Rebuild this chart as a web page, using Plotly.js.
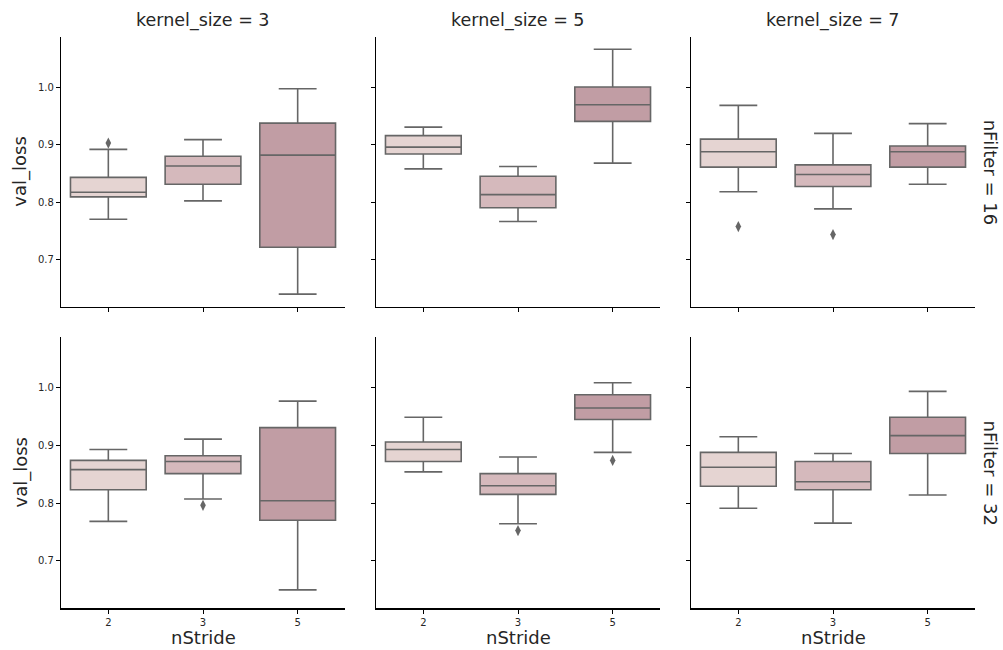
<!DOCTYPE html>
<html>
<head>
<meta charset="utf-8">
<script src="https://cdn.plot.ly/plotly-3.0.1.min.js"></script>
<style>html,body{margin:0;padding:0;background:#fff;}#chart{width:1003px;height:650px;}</style>
</head>
<body>
<div id="chart"></div>
<script>
// ---- data ----
const kernelSizes = [3, 5, 7];
const nFilters = [16, 32];
const strides = ['2', '3', '5'];
const yTicks = [0.7, 0.8, 0.9, 1.0];

// each array: [kernel 3, kernel 5, kernel 7] x [stride 2, 3, 5]
const lowerF16  = [[0.770, 0.802, 0.639], [0.858, 0.766, 0.868], [0.818, 0.788, 0.831]];
const q1F16     = [[0.809, 0.831, 0.721], [0.884, 0.790, 0.941], [0.861, 0.827, 0.861]];
const medianF16 = [[0.817, 0.863, 0.882], [0.896, 0.813, 0.970], [0.888, 0.848, 0.888]];
const q3F16     = [[0.843, 0.880, 0.938], [0.916, 0.845, 1.001], [0.910, 0.865, 0.898]];
const upperF16  = [[0.892, 0.909, 0.998], [0.931, 0.862, 1.067], [0.969, 0.920, 0.937]];

const lowerF32  = [[0.768, 0.807, 0.649], [0.854, 0.764, 0.888], [0.791, 0.765, 0.814]];
const q1F32     = [[0.823, 0.851, 0.770], [0.872, 0.815, 0.945], [0.829, 0.823, 0.886]];
const medianF32 = [[0.858, 0.872, 0.804], [0.893, 0.830, 0.965], [0.862, 0.837, 0.917]];
const q3F32     = [[0.874, 0.882, 0.931], [0.906, 0.851, 0.988], [0.888, 0.872, 0.949]];
const upperF32  = [[0.893, 0.911, 0.977], [0.949, 0.880, 1.009], [0.915, 0.886, 0.994]];

// outliers per kernel size
const outlierXF16 = [['2'], [], ['2', '3']];
const outlierYF16 = [[0.903], [], [0.757, 0.743]];
const outlierXF32 = [['3'], ['3', '5'], []];
const outlierYF32 = [[0.796], [0.752, 0.874], []];

// ---- styling ----
const boxColors = ['#e5d4d2', '#d5b9bc', '#c19da4'];
const lineGray = '#666666';
const W = 1003, H = 650;
const xDomPx = [[61, 345], [376, 660], [691, 975]];
const yDomPx = [[36.7, 306.7], [336.7, 608.3]];
const yRange = [0.617, 1.089];

const stats = {
  16: [lowerF16, q1F16, medianF16, q3F16, upperF16, outlierXF16, outlierYF16],
  32: [lowerF32, q1F32, medianF32, q3F32, upperF32, outlierXF32, outlierYF32]
};

const traces = [];
const layout = {
  width: W, height: H,
  margin: {l: 0, r: 0, t: 0, b: 0},
  paper_bgcolor: '#fff', plot_bgcolor: '#fff',
  showlegend: false,
  font: {family: 'DejaVu Sans, sans-serif', color: '#262626'},
  annotations: []
};

const titleFont = {family: 'DejaVu Sans, sans-serif', size: 17.5, color: '#262626'};
const labelFont = {family: 'DejaVu Sans, sans-serif', size: 18, color: '#262626'};
const tickFont = {family: 'DejaVu Sans, sans-serif', size: 10, color: '#262626'};

nFilters.forEach((nf, r) => {
  const [lo, q1, md, q3, up, ox, oy] = stats[nf];
  kernelSizes.forEach((ks, c) => {
    const idx = r * 3 + c + 1;
    const sfx = idx === 1 ? '' : String(idx);
    const xa = 'x' + sfx, ya = 'y' + sfx;
    strides.forEach((s, si) => {
      traces.push({
        type: 'box', xaxis: xa, yaxis: ya,
        x: [s], q1: [q1[c][si]], median: [md[c][si]], q3: [q3[c][si]],
        lowerfence: [lo[c][si]], upperfence: [up[c][si]],
        boxpoints: false, width: 0.8, whiskerwidth: 0.5,
        fillcolor: boxColors[si],
        line: {color: lineGray, width: 1.6},
        hoverinfo: 'skip'
      });
    });
    if (ox[c].length) {
      traces.push({
        type: 'scatter', mode: 'markers', xaxis: xa, yaxis: ya,
        x: ox[c], y: oy[c],
        marker: {symbol: 'diamond-tall', size: 8, color: lineGray},
        hoverinfo: 'skip'
      });
    }
    layout['xaxis' + sfx] = {
      domain: [xDomPx[c][0] / W, xDomPx[c][1] / W],
      anchor: ya, type: 'category', categoryorder: 'array', categoryarray: strides,
      range: [-0.5, 2.5], showgrid: false, zeroline: false,
      showline: true, linecolor: '#000', linewidth: 1.2,
      ticks: 'outside', ticklen: 4, tickcolor: '#000', tickwidth: 1,
      showticklabels: r === 1, tickfont: tickFont,
      fixedrange: true
    };
    layout['yaxis' + sfx] = {
      domain: [1 - yDomPx[r][1] / H, 1 - yDomPx[r][0] / H],
      anchor: xa, range: yRange, tickvals: yTicks, tickformat: '.1f',
      showgrid: false, zeroline: false,
      showline: true, linecolor: '#000', linewidth: 1.2,
      ticks: 'outside', ticklen: 4, tickcolor: '#000', tickwidth: 1,
      showticklabels: c === 0, tickfont: tickFont,
      fixedrange: true
    };
    if (r === 0) {
      layout.annotations.push({
        xref: 'paper', yref: 'paper', text: 'kernel_size = ' + ks,
        x: (xDomPx[c][0] + xDomPx[c][1]) / 2 / W, y: 1 - 20 / H,
        xanchor: 'center', yanchor: 'middle', showarrow: false, font: titleFont
      });
    }
    if (r === 1) {
      layout.annotations.push({
        xref: 'paper', yref: 'paper', text: 'nStride',
        x: (xDomPx[c][0] + xDomPx[c][1]) / 2 / W, y: 1 - 637 / H,
        xanchor: 'center', yanchor: 'middle', showarrow: false, font: labelFont
      });
    }
    if (c === 0) {
      layout.annotations.push({
        xref: 'paper', yref: 'paper', text: 'val_loss', textangle: -90,
        x: 20 / W, y: 1 - (yDomPx[r][0] + yDomPx[r][1]) / 2 / H,
        xanchor: 'center', yanchor: 'middle', showarrow: false, font: labelFont
      });
    }
    if (c === 2) {
      layout.annotations.push({
        xref: 'paper', yref: 'paper', text: 'nFilter = ' + nf, textangle: 90,
        x: 990 / W, y: 1 - (yDomPx[r][0] + yDomPx[r][1]) / 2 / H,
        xanchor: 'center', yanchor: 'middle', showarrow: false, font: labelFont
      });
    }
  });
});

Plotly.newPlot('chart', traces, layout, {staticPlot: true, displayModeBar: false});
</script>
</body>
</html>
